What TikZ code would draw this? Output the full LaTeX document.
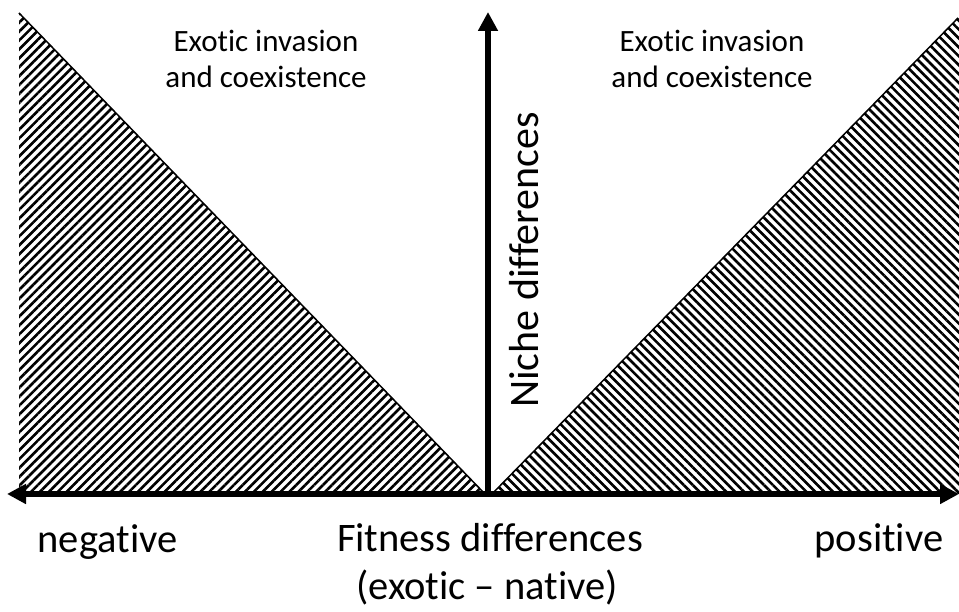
\documentclass[tikz,border=0pt]{standalone}
\usepackage{fontspec}
\setmainfont[Ligatures=NoCommon]{Carlito}
\usepackage{tikz}
\usetikzlibrary{arrows.meta,patterns.meta}

\begin{document}
\begin{tikzpicture}[x=1pt,y=1pt,>={Triangle[length=19pt,width=19pt]},
  axis/.style={line width=6pt},
  hatchleft/.style={pattern={Lines[angle=45,distance=6.3pt,line width=2.6pt]}},
  hatchright/.style={pattern={Lines[angle=-45,distance=6.3pt,line width=2.6pt]}},
  biglabel/.style={font=\fontsize{40.5}{48}\selectfont,inner sep=0pt,anchor=base},
  regionlabel/.style={font=\fontsize{31}{36}\selectfont,align=center,inner sep=0pt,anchor=base}]
  \useasboundingbox (0,0) rectangle (959,612);
  % axes end points
  \coordinate (o) at (488,118);
  \coordinate (xl) at (7,118);
  \coordinate (xr) at (959,118);
  \coordinate (yt) at (488,600);
  % hatched wedges
  \fill[hatchleft] (19,118) -- (19,599) -- (485,118) -- cycle;
  \fill[hatchright] (492,118) -- (958,594) -- (959,594) -- (959,118) -- cycle;
  \draw[line width=1.5pt] (19,599) -- (485,118);
  \draw[line width=1.5pt] (492,118) -- (958,594);
  % axes
  \draw[axis,<->] (xl) -- (xr);
  \draw[axis,->] (o) -- (yt);
  \node[biglabel] (neg) at (107.5,59) {negative};
  \node[biglabel] (fit) at (490,60) {Fitness differences};
  \node[biglabel] (fitsub) at (487,12) {(exotic – native)};
  \node[biglabel] (pos) at (879,60) {positive};
  \node[biglabel,rotate=90,font=\fontsize{42}{48}\selectfont] (niche) at (538,352) {Niche differences};
  \node[regionlabel] (invl) at (266,524) {Exotic invasion\\and coexistence};
  \node[regionlabel] (invr) at (712,524) {Exotic invasion\\and coexistence};
\end{tikzpicture}
\end{document}
